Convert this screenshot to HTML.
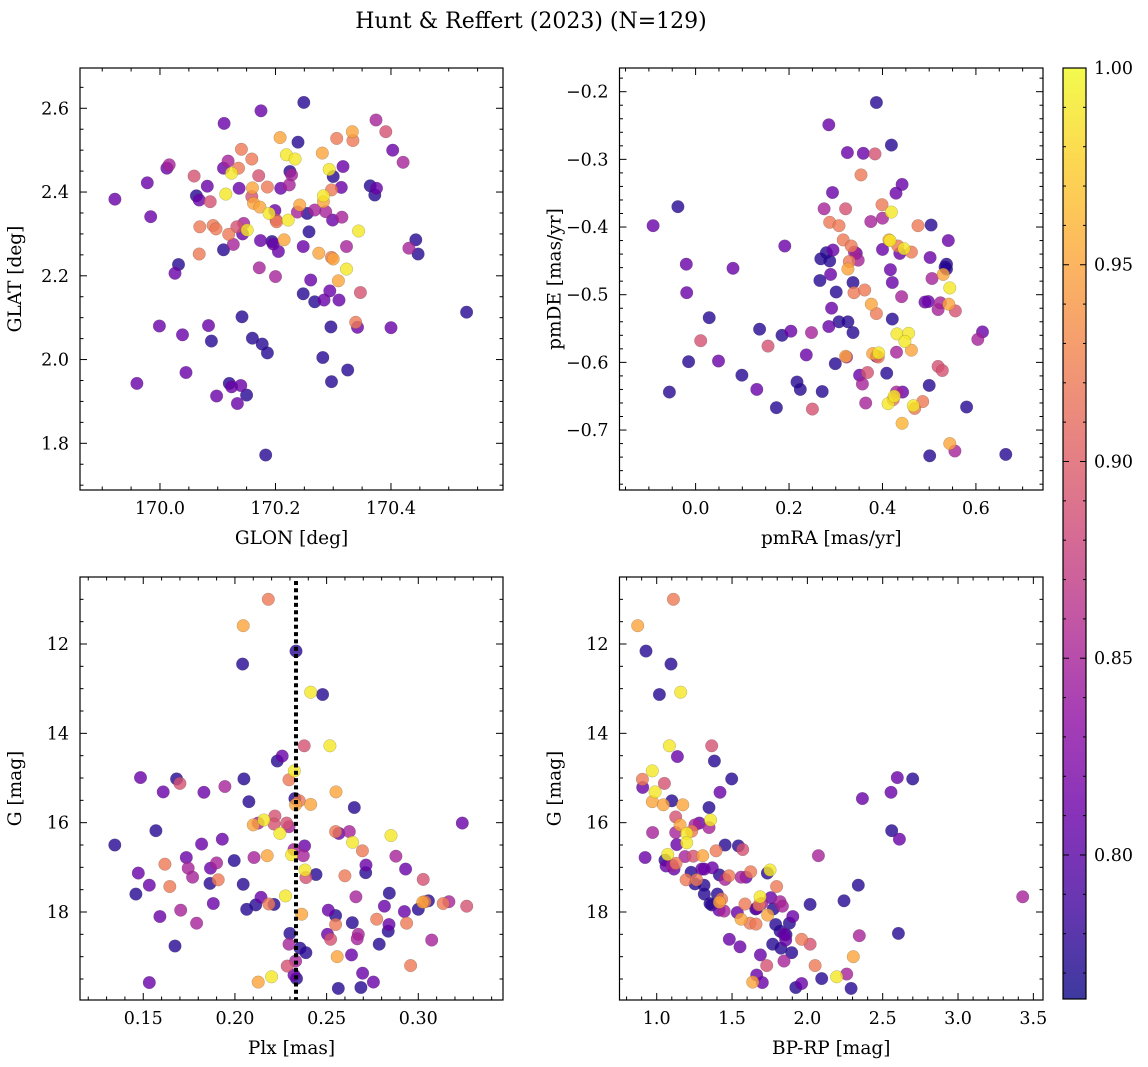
<!DOCTYPE html>
<html><head><meta charset="utf-8"><style>
html,body{margin:0;padding:0;background:#fff;}
svg{display:block;font-family:"DejaVu Serif","Liberation Serif",serif;}
</style></head><body>
<svg id="fig" width="1148" height="1067" viewBox="0 0 1148 1067" xmlns="http://www.w3.org/2000/svg">
<rect width="1148" height="1067" fill="#fff"/>
<text x="531" y="28" font-size="22" text-anchor="middle">Hunt &amp; Reffert (2023) (N=129)</text>
<g id="panels"></g>
<g id="cbar"></g>
</svg>
<script>
// ---- data ----
const glon=[170.249,170.175,170.111,170.374,170.391,170.333,170.334,170.306,170.208,170.239,170.141,170.403,170.281,170.219,170.234,170.159,170.012,170.016,170.118,170.110,170.136,170.124,170.421,170.317,170.293,170.300,170.225,170.228,170.059,170.171,169.978,170.082,170.137,170.160,170.186,170.209,170.224,170.314,170.297,170.364,170.375,170.372,169.922,170.063,170.068,170.087,170.114,170.159,170.162,170.173,170.189,170.199,170.201,170.222,170.242,170.238,170.255,170.283,170.283,170.287,170.299,170.315,169.984,170.069,170.092,170.097,170.145,170.151,170.143,170.119,170.258,170.344,170.174,170.196,170.205,170.215,170.110,170.127,170.068,170.443,170.431,170.447,170.323,170.275,170.297,170.300,170.032,170.026,170.172,170.200,170.323,170.309,170.261,170.347,170.248,170.268,170.284,170.294,170.310,170.531,170.142,169.999,170.084,170.339,170.342,170.400,170.296,170.039,170.089,170.160,170.177,170.186,170.282,170.045,170.325,170.297,169.960,170.120,170.124,170.140,170.150,170.098,170.134,170.183,170.202,170.194,170.268,170.133,170.248];
const glat=[2.614,2.594,2.564,2.572,2.544,2.544,2.523,2.528,2.530,2.519,2.502,2.500,2.493,2.489,2.479,2.479,2.457,2.465,2.474,2.457,2.457,2.445,2.471,2.461,2.454,2.437,2.449,2.441,2.438,2.439,2.422,2.414,2.409,2.410,2.412,2.409,2.417,2.411,2.405,2.415,2.409,2.393,2.383,2.391,2.381,2.377,2.395,2.389,2.373,2.364,2.349,2.356,2.333,2.333,2.369,2.352,2.349,2.391,2.377,2.353,2.333,2.340,2.341,2.317,2.320,2.312,2.325,2.309,2.300,2.299,2.305,2.307,2.284,2.276,2.258,2.286,2.262,2.275,2.252,2.286,2.266,2.252,2.270,2.254,2.244,2.240,2.227,2.206,2.219,2.198,2.216,2.188,2.190,2.160,2.157,2.138,2.142,2.164,2.142,2.113,2.102,2.080,2.081,2.089,2.077,2.076,2.078,2.059,2.044,2.051,2.037,2.016,2.005,1.969,1.975,1.947,1.943,1.943,1.935,1.938,1.915,1.913,1.895,1.772,2.329,2.282,2.357,2.317,2.270];
const probSky=[0.775,0.81,0.81,0.85,0.89,0.95,0.92,0.92,0.95,0.775,0.92,0.81,0.95,0.99,0.99,0.92,0.81,0.85,0.85,0.81,0.92,0.99,0.85,0.81,0.99,0.775,0.775,0.85,0.89,0.89,0.81,0.81,0.81,0.95,0.92,0.81,0.85,0.81,0.92,0.775,0.81,0.775,0.81,0.775,0.81,0.89,0.99,0.89,0.95,0.95,0.99,0.81,0.89,0.99,0.95,0.85,0.775,0.99,0.95,0.85,0.81,0.85,0.81,0.92,0.92,0.92,0.85,0.99,0.81,0.92,0.775,0.99,0.81,0.81,0.81,0.95,0.775,0.85,0.92,0.775,0.85,0.775,0.85,0.95,0.92,0.95,0.775,0.81,0.85,0.85,0.99,0.95,0.81,0.89,0.775,0.775,0.81,0.81,0.81,0.775,0.775,0.81,0.81,0.92,0.81,0.81,0.775,0.81,0.775,0.775,0.775,0.775,0.775,0.81,0.775,0.775,0.81,0.775,0.81,0.81,0.775,0.81,0.81,0.775,0.92,0.775,0.85,0.89,0.81];
const pmra=[0.387,0.285,0.419,0.325,0.359,0.384,0.354,0.442,0.429,0.293,-0.038,-0.091,0.275,0.321,0.399,0.419,0.287,0.307,0.375,0.400,0.476,0.504,0.541,0.191,0.316,0.333,0.344,0.294,0.280,0.268,0.287,0.329,0.326,0.414,0.416,0.433,0.446,0.462,0.437,0.400,0.502,0.537,0.537,0.530,-0.020,0.080,-0.019,0.289,0.266,0.417,0.421,0.506,0.544,0.301,0.337,0.339,0.362,0.441,0.491,0.498,0.519,0.524,0.542,0.556,0.376,0.387,0.291,0.421,0.029,0.137,0.185,0.204,0.248,0.285,0.307,0.326,0.337,0.431,0.456,0.448,0.462,0.430,0.614,0.604,0.011,0.155,0.237,0.321,0.323,0.379,0.392,0.387,-0.015,0.049,0.299,0.099,0.131,0.217,0.224,0.271,-0.056,0.173,0.250,0.351,0.368,0.357,0.409,0.519,0.528,0.500,0.364,0.412,0.425,0.443,0.466,0.469,0.486,0.442,0.580,0.544,0.555,0.501,0.664,0.430,0.340,0.423,0.348,0.534,0.391];
const pmde=[-0.216,-0.249,-0.279,-0.290,-0.291,-0.292,-0.323,-0.337,-0.350,-0.349,-0.370,-0.398,-0.373,-0.373,-0.367,-0.378,-0.393,-0.398,-0.392,-0.387,-0.398,-0.397,-0.420,-0.428,-0.419,-0.428,-0.439,-0.434,-0.438,-0.447,-0.450,-0.451,-0.462,-0.419,-0.420,-0.428,-0.432,-0.437,-0.439,-0.433,-0.445,-0.455,-0.462,-0.470,-0.455,-0.461,-0.497,-0.470,-0.479,-0.463,-0.482,-0.476,-0.490,-0.496,-0.482,-0.497,-0.493,-0.503,-0.511,-0.510,-0.522,-0.512,-0.514,-0.524,-0.514,-0.528,-0.520,-0.536,-0.534,-0.551,-0.560,-0.554,-0.556,-0.547,-0.540,-0.540,-0.556,-0.558,-0.557,-0.569,-0.582,-0.585,-0.555,-0.566,-0.568,-0.576,-0.589,-0.591,-0.592,-0.587,-0.586,-0.591,-0.599,-0.598,-0.602,-0.619,-0.640,-0.629,-0.640,-0.643,-0.644,-0.667,-0.669,-0.619,-0.615,-0.632,-0.616,-0.606,-0.612,-0.634,-0.660,-0.661,-0.650,-0.644,-0.664,-0.668,-0.658,-0.690,-0.666,-0.720,-0.731,-0.738,-0.736,-0.644,-0.437,-0.655,-0.449,-0.459,-0.592];
const probPm=[0.775,0.81,0.775,0.81,0.81,0.89,0.92,0.81,0.81,0.81,0.775,0.81,0.85,0.89,0.92,0.99,0.92,0.92,0.85,0.85,0.92,0.775,0.81,0.81,0.92,0.92,0.81,0.81,0.775,0.775,0.775,0.92,0.95,0.95,0.99,0.92,0.99,0.92,0.81,0.81,0.81,0.775,0.775,0.95,0.81,0.81,0.81,0.81,0.775,0.81,0.81,0.85,0.99,0.775,0.775,0.92,0.92,0.85,0.81,0.81,0.85,0.85,0.95,0.89,0.95,0.92,0.81,0.775,0.775,0.775,0.775,0.81,0.85,0.81,0.775,0.775,0.775,0.99,0.99,0.99,0.95,0.85,0.81,0.85,0.89,0.89,0.81,0.95,0.85,0.95,0.99,0.81,0.775,0.81,0.775,0.775,0.81,0.775,0.775,0.775,0.775,0.775,0.89,0.81,0.89,0.85,0.775,0.89,0.89,0.775,0.85,0.99,0.99,0.81,0.99,0.92,0.92,0.96,0.775,0.95,0.85,0.775,0.775,0.85,0.85,0.92,0.85,0.775,0.92];
const plx=[0.2182,0.2045,0.2333,0.2042,0.2413,0.2478,0.2378,0.2518,0.2258,0.2231,0.1485,0.1682,0.1700,0.1609,0.1831,0.1945,0.2049,0.2076,0.2324,0.2295,0.2327,0.2351,0.2331,0.2413,0.2551,0.2651,0.3240,0.2218,0.2158,0.2100,0.2127,0.2213,0.2295,0.2245,0.1569,0.1345,0.1818,0.1931,0.1735,0.1745,0.1769,0.1618,0.1473,0.1533,0.1460,0.1645,0.1867,0.1900,0.1864,0.1909,0.1996,0.2045,0.2104,0.2176,0.2322,0.2380,0.2309,0.2373,0.2382,0.2387,0.2442,0.2549,0.2567,0.2624,0.2642,0.2695,0.2851,0.2878,0.2715,0.2713,0.2600,0.2931,0.3027,0.2142,0.2113,0.2064,0.2185,0.2213,0.2276,0.1591,0.1704,0.1791,0.1673,0.1533,0.2364,0.2509,0.2549,0.2549,0.2640,0.2660,0.2815,0.2842,0.2924,0.3000,0.3036,0.3055,0.3024,0.3136,0.3167,0.3264,0.2773,0.2840,0.2836,0.2936,0.3073,0.2787,0.2505,0.2522,0.2673,0.2667,0.2636,0.2558,0.2300,0.2295,0.2355,0.2387,0.2331,0.2285,0.2322,0.2336,0.2200,0.2127,0.2696,0.2755,0.2564,0.2687,0.2958,0.1882,0.2282];
const gPlx=[11.00,11.59,12.16,12.45,13.08,13.13,14.28,14.28,14.51,14.62,14.99,15.02,15.12,15.31,15.32,15.19,15.02,15.53,14.84,15.04,15.46,15.51,15.60,15.59,15.31,15.66,16.01,15.85,15.94,16.05,16.01,16.03,16.09,16.24,16.18,16.50,16.48,16.37,16.78,17.02,17.22,16.93,17.13,17.40,17.60,17.43,17.02,16.90,17.36,17.28,16.85,17.38,16.78,16.74,16.60,16.52,16.72,16.74,17.06,17.23,17.16,16.20,16.24,16.20,16.44,16.63,16.29,16.75,16.95,17.12,17.19,17.04,17.27,17.67,17.84,17.94,17.82,17.83,17.64,18.10,17.96,18.25,18.76,19.58,18.05,17.96,18.08,18.28,18.24,17.66,17.87,17.58,17.99,17.94,17.77,17.75,17.78,17.81,17.77,17.87,18.16,18.28,18.43,18.25,18.63,18.72,18.50,18.61,18.50,18.60,18.96,19.00,18.48,18.72,18.81,18.91,19.10,19.21,19.41,19.49,19.45,19.57,19.37,19.57,19.71,19.69,19.20,17.81,16.01];
const probPlx=[0.92,0.95,0.775,0.775,0.99,0.775,0.89,0.99,0.81,0.775,0.81,0.775,0.89,0.81,0.81,0.85,0.775,0.775,0.99,0.92,0.775,0.92,0.95,0.95,0.95,0.775,0.81,0.89,0.99,0.95,0.85,0.89,0.85,0.99,0.775,0.775,0.81,0.81,0.81,0.85,0.85,0.92,0.81,0.81,0.775,0.92,0.81,0.85,0.775,0.92,0.775,0.775,0.85,0.95,0.85,0.81,0.99,0.85,0.99,0.89,0.775,0.92,0.81,0.85,0.99,0.92,0.99,0.85,0.81,0.775,0.92,0.81,0.89,0.81,0.775,0.775,0.92,0.775,0.99,0.81,0.85,0.85,0.775,0.81,0.95,0.81,0.775,0.92,0.775,0.85,0.81,0.775,0.81,0.775,0.92,0.775,0.95,0.92,0.85,0.89,0.92,0.81,0.775,0.92,0.85,0.775,0.81,0.89,0.85,0.85,0.81,0.95,0.775,0.85,0.775,0.775,0.85,0.89,0.81,0.775,0.99,0.95,0.81,0.81,0.775,0.775,0.92,0.81,0.89];
const bprp=[1.111,0.874,0.929,1.095,1.018,1.159,1.084,1.365,1.137,1.383,1.498,0.971,0.905,0.907,1.051,1.420,0.989,0.971,1.100,1.044,1.173,1.347,1.126,1.155,1.254,1.283,1.347,1.358,1.232,1.199,1.199,1.126,1.133,0.973,0.923,1.073,1.062,1.115,1.128,1.188,1.243,1.305,1.454,1.542,1.571,1.394,1.228,1.195,1.254,1.314,1.299,1.369,1.416,1.454,1.480,1.560,1.624,1.735,1.752,1.316,1.403,1.365,1.431,1.416,1.414,1.447,1.535,1.560,1.586,1.619,1.659,1.657,1.686,1.679,1.757,1.737,1.796,1.774,1.819,1.834,1.903,1.881,1.790,1.819,1.858,1.856,1.770,1.825,1.896,1.482,1.553,1.688,1.962,2.018,1.845,1.730,1.664,1.701,1.637,1.923,1.962,2.051,2.095,2.195,2.261,2.290,2.305,2.345,2.604,2.018,2.243,2.338,2.073,2.560,2.611,2.365,2.555,2.597,2.699,3.429,1.055,1.104,1.316,1.593,1.664,1.697,1.845,1.265,1.354];
const gCmd=[11.00,11.59,12.16,12.45,13.13,13.08,14.28,14.28,14.52,14.62,15.02,14.84,15.03,15.21,15.12,15.32,15.31,15.53,15.51,15.60,15.60,15.66,15.87,16.05,16.05,16.01,16.11,15.94,16.19,16.24,16.45,16.22,16.49,16.22,16.78,16.71,16.97,17.04,16.91,16.76,16.75,16.74,16.50,16.52,16.60,16.63,17.11,17.28,17.37,17.40,17.04,17.01,17.17,17.27,17.19,17.22,17.10,17.13,17.06,17.60,17.60,17.84,17.71,17.78,17.96,17.98,18.01,18.16,17.82,18.25,18.27,17.93,17.66,17.84,17.68,18.07,17.43,17.93,17.77,17.87,18.10,18.25,18.28,18.43,18.51,18.63,18.72,18.81,18.91,18.61,18.78,18.96,18.61,18.72,19.10,19.20,19.41,19.58,19.57,19.69,19.60,19.20,19.49,19.45,19.39,19.71,19.00,18.53,18.48,17.83,17.75,17.40,16.74,16.18,16.37,15.46,15.32,14.99,15.02,17.66,16.84,16.95,17.04,17.22,17.92,17.81,18.50,17.28,17.81];
const probCmd=[0.92,0.95,0.775,0.775,0.775,0.99,0.99,0.89,0.81,0.775,0.775,0.99,0.92,0.81,0.89,0.81,0.99,0.95,0.775,0.95,0.95,0.775,0.89,0.95,0.85,0.81,0.85,0.99,0.92,0.99,0.99,0.85,0.81,0.85,0.81,0.99,0.81,0.81,0.92,0.85,0.89,0.95,0.775,0.775,0.89,0.92,0.775,0.92,0.775,0.775,0.81,0.81,0.775,0.85,0.92,0.85,0.92,0.775,0.99,0.775,0.775,0.775,0.92,0.95,0.81,0.85,0.81,0.95,0.92,0.92,0.92,0.775,0.99,0.92,0.81,0.95,0.92,0.775,0.85,0.85,0.81,0.775,0.775,0.775,0.775,0.81,0.775,0.775,0.775,0.81,0.81,0.81,0.92,0.89,0.85,0.89,0.81,0.81,0.95,0.775,0.81,0.92,0.775,0.99,0.85,0.775,0.95,0.85,0.775,0.775,0.775,0.775,0.85,0.775,0.81,0.81,0.81,0.81,0.775,0.85,0.775,0.85,0.81,0.81,0.81,0.85,0.81,0.92,0.775];
const cbTicks=[0.80,0.85,0.90,0.95,1.00];
const vmin=0.7634, vmax=1.0;
const plxCut=0.2333;

const NS='http://www.w3.org/2000/svg';
const TICKFS=17.5, TITLEFS=18.5;
const stops=[[13,8,135],[65,4,157],[106,0,168],[143,13,164],[177,42,144],[204,71,120],[225,100,98],[242,132,75],[252,166,54],[252,206,37],[240,249,33]];
function plasma(t){t=Math.max(0,Math.min(1,t));const f=t*10,i=Math.min(9,Math.floor(f)),u=f-i;const a=stops[i],b=stops[i+1];return 'rgb('+[0,1,2].map(k=>Math.round(a[k]+(b[k]-a[k])*u)).join(',')+')';}
function mk(tag,attrs,parent){const e=document.createElementNS(NS,tag);for(const k in attrs)e.setAttribute(k,attrs[k]);parent.appendChild(e);return e;}
const root=document.getElementById('panels');
function fmt(v,d,abs){const s=Math.abs(v).toFixed(d);return (!abs&&v<-1e-9?'\u2212':'')+s;}

function panel(o){
  const g=mk('g',{},root);
  
  
  const X=v=>o.px[0]+(v-o.xd[0])/(o.xd[1]-o.xd[0])*(o.px[1]-o.px[0]);
  const Y=v=>o.py[1]-(v-o.yd[0])/(o.yd[1]-o.yd[0])*(o.py[1]-o.py[0]);
  const pts=mk('g',{},g);
  
  
  const idx=o.xs.map((_,i)=>i).sort((a,b)=>o.c[a]-o.c[b]);
  idx.forEach(i=>{
    const c=mk('circle',{cx:X(o.xs[i]).toFixed(1),cy:Y(o.ys[i]).toFixed(1),r:6.3,fill:plasma((o.c[i]-vmin)/(vmax-vmin)),'fill-opacity':0.8,stroke:'rgba(60,60,60,0.35)','stroke-width':0.5},pts);
    
    
  });
  if(o.vline!==undefined){
    const l=mk('line',{x1:X(o.vline),x2:X(o.vline),y1:o.py[0]+4,y2:o.py[1],stroke:'#000','stroke-width':4,'stroke-dasharray':'4 3.3'},g);
    
    
  }
  const fr=mk('rect',{x:o.px[0],y:o.py[0],width:o.px[1]-o.px[0],height:o.py[1]-o.py[0],fill:'none',stroke:'#000','stroke-width':1.2},g);
  
  
  const tk=mk('g',{stroke:'#000','stroke-width':1},g);
  
  
  const lab=mk('g',{'font-size':TICKFS,fill:'#000'},g);
  
  
  const xs=Math.ceil(o.xd[0]/o.xmin-1e-6), xe=Math.floor(o.xd[1]/o.xmin+1e-6);
  for(let k=xs;k<=xe;k++){const v=k*o.xmin;const x=X(v);const maj=Math.abs(v/o.xmaj-Math.round(v/o.xmaj))<1e-6;const L=maj?7:3.5;
    mk('line',{x1:x,x2:x,y1:o.py[1],y2:o.py[1]-L},tk);mk('line',{x1:x,x2:x,y1:o.py[0],y2:o.py[0]+L},tk);
    if(maj){const t=mk('text',{x:x,y:o.py[1]+24,'text-anchor':'middle'},lab);t.textContent=fmt(v,o.xdec,false);}}
  const ys=Math.ceil(o.yd[0]/o.ymin-1e-6), ye=Math.floor(o.yd[1]/o.ymin+1e-6);
  for(let k=ys;k<=ye;k++){const v=k*o.ymin;const y=Y(v);const maj=Math.abs(v/o.ymaj-Math.round(v/o.ymaj))<1e-6;const L=maj?7:3.5;
    mk('line',{x1:o.px[0],x2:o.px[0]+L,y1:y,y2:y},tk);mk('line',{x1:o.px[1],x2:o.px[1]-L,y1:y,y2:y},tk);
    if(maj){const t=mk('text',{x:o.px[0]-11,y:y+6,'text-anchor':'end'},lab);t.textContent=fmt(v,o.ydec,o.absY);}}
  const xl=mk('text',{x:(o.px[0]+o.px[1])/2,y:o.py[1]+54,'text-anchor':'middle','font-size':TITLEFS},g);
  xl.textContent=o.xlabel;
  
  
  const yx=o.px[0]-59, yy=(o.py[0]+o.py[1])/2;
  const yl=mk('text',{x:yx,y:yy,'text-anchor':'middle','font-size':TITLEFS,transform:'rotate(-90 '+yx+' '+yy+')'},g);
  yl.textContent=o.ylabel;
  
  
}
function negArr(a){return a.map(v=>-v);}
panel({name:'sky-panel',px:[80,503],py:[68,490],xd:[169.8615,170.594],yd:[1.6885,2.6962],xs:glon,ys:glat,c:probSky,xmaj:0.2,xmin:0.05,ymaj:0.2,ymin:0.05,xdec:1,ydec:1,xlabel:'GLON [deg]',ylabel:'GLAT [deg]'});
panel({name:'proper-motion-panel',px:[619.5,1043],py:[68,490],xd:[-0.1629,0.7436],yd:[-0.7886,-0.165],xs:pmra,ys:pmde,c:probPm,xmaj:0.2,xmin:0.05,ymaj:0.1,ymin:0.02,xdec:1,ydec:1,xlabel:'pmRA [mas/yr]',ylabel:'pmDE [mas/yr]'});
panel({name:'parallax-panel',px:[80,503],py:[577,1000],xd:[0.1155,0.3462],yd:[-19.97,-10.50],xs:plx,ys:negArr(gPlx),c:probPlx,xmaj:0.05,xmin:0.01,ymaj:2,ymin:0.5,xdec:2,ydec:0,absY:true,xlabel:'Plx [mas]',ylabel:'G [mag]',vline:plxCut});
panel({name:'cmd-panel',px:[619.5,1043],py:[577,1000],xd:[0.753,3.564],yd:[-19.97,-10.50],xs:bprp,ys:negArr(gCmd),c:probCmd,xmaj:0.5,xmin:0.1,ymaj:2,ymin:0.5,xdec:1,ydec:0,absY:true,xlabel:'BP-RP [mag]',ylabel:'G [mag]'});

const cb=document.getElementById('cbar');
const cx0=1063,cx1=1086,cy0=68,cy1=999;
const CY=v=>cy1-(v-vmin)/(vmax-vmin)*(cy1-cy0);
const defs=mk('defs',{},cb);
const lg=mk('linearGradient',{id:'pg',x1:0,y1:1,x2:0,y2:0},defs);
for(let i=0;i<=20;i++){mk('stop',{offset:i/20,'stop-color':plasma(i/20),'stop-opacity':0.8},lg);}
const cr=mk('rect',{x:cx0,y:cy0,width:cx1-cx0,height:cy1-cy0,fill:'url(#pg)',stroke:'#000','stroke-width':1.2},cb);


for(let k=Math.ceil(vmin*100);k<=100;k++){const v=k/100,y=CY(v);const maj=k%5===0;const L=maj?6:3;
  mk('line',{x1:cx1,x2:cx1-L,y1:y,y2:y,stroke:'#000','stroke-width':1},cb);mk('line',{x1:cx0,x2:cx0+L,y1:y,y2:y,stroke:'#000','stroke-width':1},cb);}
cbTicks.forEach(v=>{const t=mk('text',{x:cx1+8,y:CY(v)+6,'font-size':TICKFS},cb);t.textContent=v.toFixed(2);
  
  });
</script>
</body></html>
